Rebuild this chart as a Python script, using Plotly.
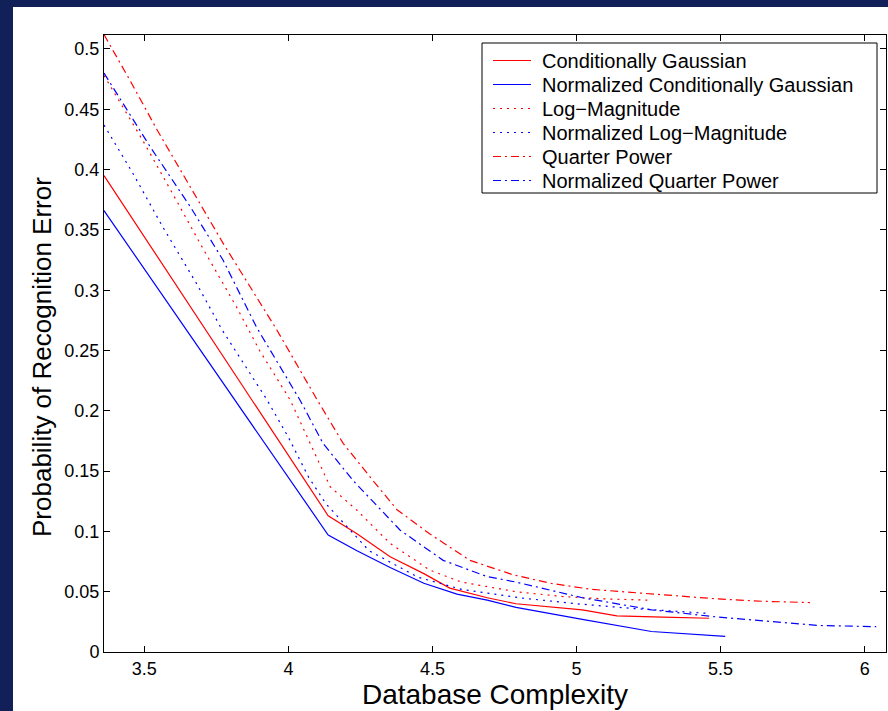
import plotly.graph_objects as go

# ---- data ----
cg_x = [3.36, 4.138, 4.238, 4.353, 4.47, 4.56, 4.69, 4.79, 5.02, 5.14, 5.30, 5.46]
cg_y = [0.395, 0.113, 0.098, 0.079, 0.065, 0.053, 0.045, 0.040, 0.035, 0.030, 0.029, 0.028]

ncg_x = [3.36, 4.138, 4.238, 4.353, 4.47, 4.585, 4.69, 4.79, 5.02, 5.26, 5.516]
ncg_y = [0.366, 0.097, 0.084, 0.070, 0.057, 0.048, 0.043, 0.037, 0.027, 0.017, 0.013]

lm_x = [3.36, 3.495, 3.61, 3.70, 3.82, 3.90, 4.006, 4.145, 4.238, 4.353, 4.49, 4.60, 4.79, 4.95, 5.10, 5.25]
lm_y = [0.478, 0.424, 0.375, 0.336, 0.286, 0.250, 0.209, 0.137, 0.1175, 0.090, 0.068, 0.058, 0.050, 0.046, 0.044, 0.043]

nlm_x = [3.36, 3.46, 3.565, 3.68, 3.77, 3.926, 4.00, 4.07, 4.13, 4.28, 4.45, 4.60, 4.80, 5.00, 5.20, 5.46]
nlm_y = [0.437, 0.397, 0.352, 0.306, 0.267, 0.209, 0.178, 0.145, 0.123, 0.084, 0.062, 0.052, 0.045, 0.040, 0.036, 0.032]

qp_x = [3.36, 3.45, 3.544, 3.66, 3.773, 3.89, 3.96, 4.10, 4.19, 4.294, 4.377, 4.49, 4.63, 4.78, 4.91, 5.05, 5.21, 5.35, 5.49, 5.65, 5.81]
qp_y = [0.512, 0.474, 0.433, 0.386, 0.339, 0.294, 0.267, 0.209, 0.173, 0.142, 0.118, 0.098, 0.076, 0.064, 0.057, 0.052, 0.049, 0.046, 0.044, 0.042, 0.041]

nqp_x = [3.36, 3.52, 3.66, 3.773, 3.89, 4.04, 4.12, 4.225, 4.388, 4.537, 4.69, 4.79, 5.02, 5.26, 5.49, 5.84, 6.04]
nqp_y = [0.480, 0.419, 0.369, 0.325, 0.269, 0.209, 0.173, 0.142, 0.101, 0.076, 0.0625, 0.058, 0.045, 0.035, 0.029, 0.022, 0.021]

x_ticks = [3.5, 4, 4.5, 5, 5.5, 6]
x_tick_labels = ["3.5", "4", "4.5", "5", "5.5", "6"]
y_ticks = [0, 0.05, 0.1, 0.15, 0.2, 0.25, 0.3, 0.35, 0.4, 0.45, 0.5]
y_tick_labels = ["0", "0.05", "0.1", "0.15", "0.2", "0.25", "0.3", "0.35", "0.4", "0.45", "0.5"]

RED = "#ff0000"
BLUE = "#0000ff"
DOT = "2px,5px"
DASHDOT = "8px,4px,2px,4px"

series = [
    ("Conditionally Gaussian", cg_x, cg_y, RED, "solid"),
    ("Normalized Conditionally Gaussian", ncg_x, ncg_y, BLUE, "solid"),
    ("Log\u2212Magnitude", lm_x, lm_y, RED, DOT),
    ("Normalized Log\u2212Magnitude", nlm_x, nlm_y, BLUE, DOT),
    ("Quarter Power", qp_x, qp_y, RED, DASHDOT),
    ("Normalized Quarter Power", nqp_x, nqp_y, BLUE, DASHDOT),
]

fig = go.Figure()
for name, xs, ys, col, dash in series:
    fig.add_trace(go.Scatter(x=xs, y=ys, mode="lines", name=name, showlegend=False,
                             line=dict(color=col, width=1.2, dash=dash)))

W, H = 888, 711
L, R, T, B = 104, 2, 35, 59
pw = W - L - R
ph = H - T - B

def px_x(p):
    return (p - L) / pw

def px_y(p):
    return (H - B - p) / ph

FONT = "Liberation Sans, Arial, Helvetica, sans-serif"

shapes = [
    dict(type="rect", xref="paper", yref="paper", layer="below",
         x0=px_x(13), x1=px_x(890), y0=px_y(713), y1=px_y(7),
         fillcolor="white", line=dict(width=0)),
    dict(type="rect", xref="paper", yref="paper", layer="above",
         x0=px_x(482), x1=px_x(877), y0=px_y(193), y1=px_y(43),
         fillcolor="white", line=dict(color="black", width=1)),
]
annotations = []
# legend box (drawn as shapes + text so row spacing matches the reference)
row_y0, row_step = 60.5, 24.0
for i, (name, xs, ys, col, dash) in enumerate(series):
    yy = px_y(row_y0 + i * row_step)
    shapes.append(dict(type="line", xref="paper", yref="paper", layer="above",
                       x0=px_x(493), x1=px_x(531), y0=yy, y1=yy,
                       line=dict(color=col, width=1.2, dash=dash)))
    annotations.append(dict(xref="paper", yref="paper", x=px_x(540), y=yy,
                            xanchor="left", yanchor="middle", showarrow=False,
                            text=name, font=dict(family=FONT, size=20, color="black")))

annotations.append(dict(xref="paper", yref="paper", x=px_x(42), y=px_y(357),
                        xanchor="center", yanchor="middle", showarrow=False, textangle=-90,
                        text="Probability of Recognition Error",
                        font=dict(family=FONT, size=26, color="black")))

fig.update_layout(
    width=W, height=H,
    margin=dict(l=L, r=R, t=T, b=B, pad=0),
    paper_bgcolor="#12205a",
    plot_bgcolor="white",
    font=dict(family=FONT, color="black", size=18),
    showlegend=False,
    shapes=shapes,
    annotations=annotations,
)

fig.update_xaxes(
    range=[3.36, 6.074], tickmode="array", tickvals=x_ticks, ticktext=x_tick_labels,
    ticks="inside", ticklen=6, tickwidth=1, tickcolor="black",
    showline=True, linecolor="black", linewidth=1, mirror="ticks",
    showgrid=False, zeroline=False,
    tickfont=dict(size=18, family=FONT),
    title=dict(text="Database Complexity", font=dict(size=28, family=FONT), standoff=0),
)
fig.update_yaxes(
    range=[0, 0.5116], tickmode="array", tickvals=y_ticks, ticktext=y_tick_labels,
    ticks="inside", ticklen=6, tickwidth=1, tickcolor="black",
    showline=True, linecolor="black", linewidth=1, mirror="ticks",
    showgrid=False, zeroline=False,
    tickfont=dict(size=18, family=FONT),
)

fig.write_html("out.html", config={"displayModeBar": False},
               post_script="document.body.style.margin='0';document.body.style.overflow='hidden';")
